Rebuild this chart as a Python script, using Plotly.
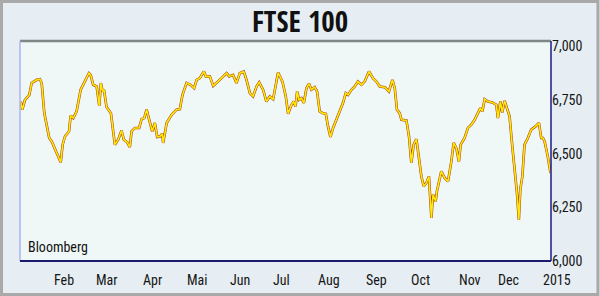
import plotly.graph_objects as go

# Day of year (2014) and FTSE 100 closing level
days = [0.5, 1.6, 3.4, 6.4, 8.0, 11.5, 13.7, 14.9, 16.7, 20.1, 21.8, 25.2, 28.0, 29.3, 30.9, 33.7,
        34.8, 36.6, 38.9, 41.7, 44.6, 47.4, 48.6, 50.3, 52.7, 54.5, 55.6, 56.8, 57.7, 59.5, 62.5,
        65.2, 67.5, 69.8, 71.4, 73.7, 75.5, 76.7, 79.0, 81.9, 83.6, 85.4, 87.0, 89.3, 90.9, 92.7,
        94.3, 96.2, 97.7, 98.4, 100.8, 104.2, 107.6, 109.9, 111.7, 114.5, 117.2, 119.7, 121.4,
        123.6, 126.4, 127.7, 130.5, 132.8, 135.1, 138.5, 142.0, 143.8, 146.5, 148.8, 151.1, 153.8,
        155.7, 158.0, 160.2, 162.6, 164.4, 167.1, 169.4, 171.7, 174.0, 175.8, 177.4, 180.4, 182.7,
        184.3, 186.6, 188.2, 189.4, 190.5, 191.8, 193.5, 195.1, 196.9, 198.7, 200.3, 202.6, 204.2,
        206.0, 207.9, 210.2, 211.7, 213.4, 215.2, 217.5, 219.8, 222.0, 223.9, 225.5, 227.8, 230.1,
        232.3, 234.7, 236.9, 239.9, 242.6, 245.0, 247.3, 250.7, 253.6, 256.0, 257.6, 259.1, 261.0,
        262.2, 265.6, 267.4, 269.0, 270.6, 272.5, 274.2, 275.9, 277.5, 279.3, 281.1, 282.8, 283.9,
        285.7, 286.6, 289.6, 291.9, 294.2, 296.5, 298.1, 299.9, 301.7, 302.9, 305.6, 307.9, 310.2,
        312.5, 314.8, 316.4, 317.8, 319.4, 321.6, 324.7, 327.4, 328.5, 330.2, 331.5, 333.1, 334.7,
        336.5, 338.4, 340.0, 341.6, 342.9, 343.9, 345.3, 346.8, 349.1, 351.4, 354.4, 356.7, 358.3,
        359.5, 360.6, 361.8, 362.8, 364.7]
ftse = [6743, 6705, 6751, 6774, 6829, 6844, 6847, 6829, 6689, 6573, 6557, 6503, 6460, 6542, 6580, 6604,
        6677, 6666, 6697, 6798, 6836, 6875, 6867, 6821, 6813, 6723, 6829, 6790, 6798, 6717, 6689,
        6542, 6565, 6608, 6565, 6553, 6531, 6604, 6620, 6620, 6661, 6666, 6705, 6650, 6604, 6643,
        6578, 6580, 6593, 6550, 6643, 6681, 6705, 6708, 6774, 6829, 6821, 6805, 6844,
        6852, 6883, 6860, 6860, 6816, 6832, 6852, 6875, 6860, 6867, 6829, 6875, 6883,
        6844, 6782, 6767, 6813, 6832, 6798, 6743, 6767, 6754, 6821, 6878, 6836, 6767,
        6686, 6728, 6743, 6720, 6790, 6751, 6759, 6736, 6805, 6826, 6798, 6810, 6790,
        6697, 6689, 6686, 6627, 6578, 6620, 6658, 6697, 6736, 6782, 6774, 6798, 6813,
        6836, 6821, 6836, 6883, 6852, 6836, 6813, 6810, 6790, 6844, 6805, 6705, 6689,
        6658, 6655, 6580, 6457, 6542, 6568, 6472, 6394, 6348, 6364, 6394, 6201, 6309,
        6278, 6325, 6418, 6387, 6371, 6464, 6550, 6526, 6464, 6542, 6573, 6620, 6635,
        6658, 6689, 6712, 6697, 6754, 6743, 6739, 6728, 6666, 6743, 6692, 6747, 6708,
        6674, 6534, 6434, 6317, 6193, 6333, 6394, 6542, 6573, 6612, 6627, 6643, 6573,
        6573, 6557, 6526, 6487, 6410]

month_labels = ["Feb", "Mar", "Apr", "Mai", "Jun", "Jul", "Aug", "Sep", "Oct", "Nov", "Dec", "2015"]
month_pos = [30.5, 59.5, 91.0, 122.0, 151.5, 179.5, 212.5, 245.0, 275.0, 309.0, 335.5, 369.0]
y_ticks = [6000, 6250, 6500, 6750, 7000]
X_RANGE = [0, 365]

FONT = "Roboto Condensed, DejaVu Sans Condensed, sans-serif"
TITLE_FONT = "Open Sans Condensed, DejaVu Sans Condensed, sans-serif"

fig = go.Figure()
fig.add_trace(go.Scatter(x=days, y=ftse, mode="lines",
                         line=dict(color="#a8401c", width=2.6), hoverinfo="skip"))
fig.add_trace(go.Scatter(x=days, y=ftse, mode="lines",
                         line=dict(color="#ffea00", width=1.6)))

L, R, T, B = 20, 48.5, 41, 35
W, H = 600 - L - R, 296 - T - B

def px(x):
    return (x - L) / W

def py(y):
    return (296 - B - y) / H

shapes = [
    dict(type="rect", xref="paper", yref="paper", x0=px(1.5), x1=px(598.5), y0=py(294.5), y1=py(1.5),
         line=dict(color="#a9a9a9", width=3), layer="below"),
    dict(type="line", xref="paper", yref="paper", x0=0, x1=1, y0=1, y1=1,
         line=dict(color="#7d8786", width=2.5)),
    dict(type="line", xref="paper", yref="paper", x0=0, x1=0, y0=0, y1=1,
         line=dict(color="#a8b4f4", width=1.5)),
    dict(type="line", xref="paper", yref="paper", x0=1, x1=1, y0=0, y1=1,
         line=dict(color="#1a1a8a", width=1.5)),
    dict(type="line", xref="paper", yref="paper", x0=0, x1=1, y0=0, y1=0,
         line=dict(color="#1a1a6e", width=2)),
]

annotations = [
    dict(text="FTSE 100", xref="paper", yref="paper", x=px(300), y=py(20),
         xanchor="center", yanchor="middle", showarrow=False,
         font=dict(family=TITLE_FONT, size=29, weight=800, color="#111111")),
    dict(text="Bloomberg", xref="paper", yref="paper", x=px(26), y=py(247),
         xanchor="left", yanchor="middle", showarrow=False,
         font=dict(family=FONT, size=14, color="#111111")),
]
span = X_RANGE[1] - X_RANGE[0]
for lab, pos in zip(month_labels, month_pos):
    annotations.append(dict(text=lab, xref="paper", yref="paper", x=(pos - X_RANGE[0]) / span, y=py(280),
                            xanchor="center", yanchor="middle", showarrow=False,
                            font=dict(family=FONT, size=14, color="#151515")))

fig.update_layout(
    width=600, height=296,
    margin=dict(l=L, r=R, t=T, b=B),
    paper_bgcolor="#e6eef3",
    plot_bgcolor="#f0f8f7",
    showlegend=False,
    shapes=shapes,
    annotations=annotations,
    xaxis=dict(range=X_RANGE, showgrid=False, zeroline=False, showticklabels=False,
               showline=False, fixedrange=True),
    yaxis=dict(range=[6000, 7025], side="right", tickvals=y_ticks, tickformat=",d",
               showgrid=False, zeroline=False, showline=False, ticks="",
               tickfont=dict(family=FONT, size=14, color="#151515"), fixedrange=True),
)

fig.write_html("out.html")
